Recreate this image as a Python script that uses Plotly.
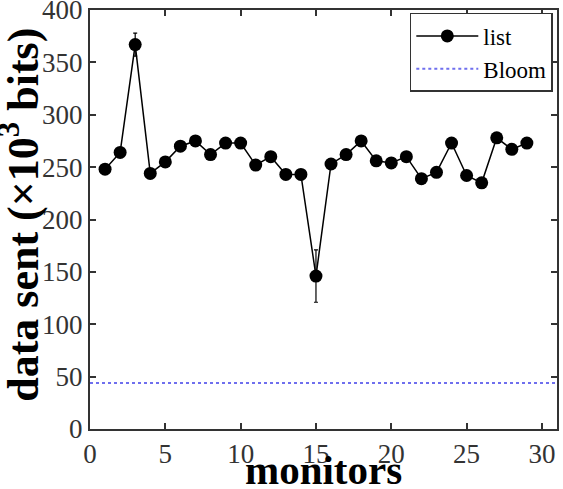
import plotly.graph_objects as go

monitors = list(range(1, 30))
list_vals = [248, 264, 367, 244, 255, 270, 275, 262, 273, 273, 252, 260, 243, 243, 146,
             253, 262, 275, 256, 254, 260, 239, 245, 273, 242, 235, 278, 267, 273]
list_err = [3, 3, 11, 3, 3, 3, 3, 3, 3, 3, 3, 3, 3, 3, 25,
            3, 3, 3, 3, 3, 3, 3, 3, 3, 3, 3, 3, 3, 3]
bloom_val = 44
x_range = [0, 31]
y_range = [0, 400]
x_title = "<b>monitors</b>"
y_title = "<b>data sent (×10<sup>3</sup> bits)</b>"

serif = "Liberation Serif"

fig = go.Figure()
fig.add_trace(go.Scatter(
    x=monitors, y=list_vals, name="list", mode="lines+markers",
    line=dict(color="black", width=1.5),
    marker=dict(color="black", size=13),
    error_y=dict(type="data", array=list_err, color="black", thickness=1.2, width=2),
))
fig.add_trace(go.Scatter(
    x=x_range, y=[bloom_val, bloom_val], name="Bloom", mode="lines",
    line=dict(color="#6f6fee", width=2, dash="dot"),
))

axis_common = dict(
    showgrid=False, zeroline=False, showline=True, linecolor="#333", linewidth=2,
    mirror="allticks", ticks="inside", ticklen=6, tickcolor="#333", tickwidth=1.5,
    tickfont=dict(family=serif, size=27, color="#333"),
    ticklabeloverflow="allow", automargin=False,
)
fig.update_xaxes(range=x_range, tickvals=[0, 5, 10, 15, 20, 25, 30], **axis_common)
fig.update_yaxes(range=y_range, tickvals=list(range(0, 401, 50)), **axis_common)

fig.add_annotation(text=x_title, xref="paper", yref="paper", x=0.501, y=-0.098,
                   xanchor="center", yanchor="middle", showarrow=False,
                   font=dict(family=serif, size=41, color="black"))
fig.add_annotation(text=y_title, xref="paper", yref="paper", x=-0.15, y=0.511,
                   xanchor="center", yanchor="middle", showarrow=False, textangle=-90,
                   font=dict(family=serif, size=44, color="black"))

fig.update_layout(
    width=563, height=489,
    margin=dict(l=90, r=6, t=10, b=60),
    plot_bgcolor="white", paper_bgcolor="white",
    showlegend=True,
    legend=dict(x=0.991, y=0.993, xanchor="right", yanchor="top",
                bgcolor="white", bordercolor="#333", borderwidth=1.5,
                font=dict(family=serif, size=23, color="black"),
                tracegroupgap=0, itemwidth=62),
)

fig.write_html("out.html")
